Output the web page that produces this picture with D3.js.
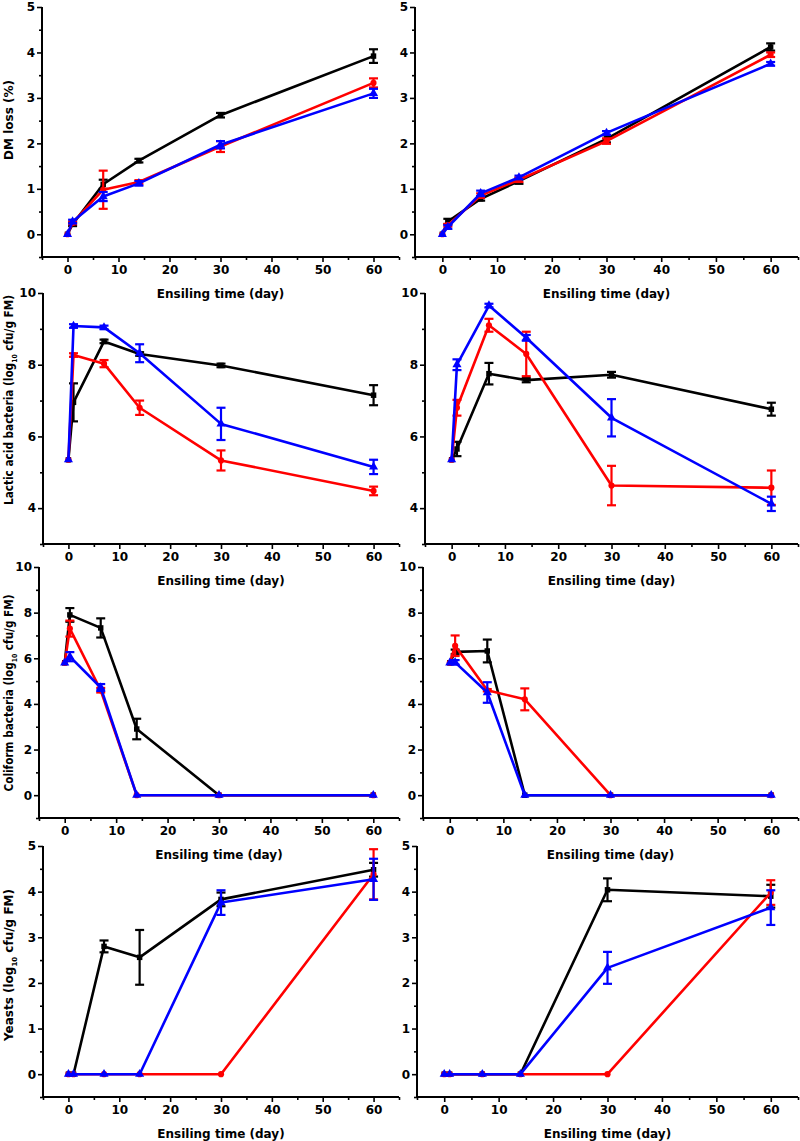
<!DOCTYPE html>
<html><head><meta charset="utf-8">
<script src="https://cdn.jsdelivr.net/npm/d3@7/dist/d3.min.js"></script>
<style>
html,body{margin:0;padding:0;background:#fff;}
text{font-family:"DejaVu Sans",Verdana,sans-serif;font-weight:bold;fill:#000;}
</style></head>
<body>
<svg id="chart" width="800" height="1141"></svg>
<script>
// ---------- DATA ----------
const days = [0, 1, 7, 14, 30, 60];
const xTicks = [0, 10, 20, 30, 40, 50, 60];
const xLabel = "Ensiling time (day)";

// DM loss (%)
const dmL_black = [0, 0.22, 1.10, 1.62, 2.62, 3.92];
const dmL_black_err = [0, 0.04, 0.10, 0.04, 0.05, 0.15];
const dmL_red = [0, 0.25, 0.98, 1.15, 1.93, 3.33];
const dmL_red_err = [0, 0.03, 0.42, 0.04, 0.12, 0.10];
const dmL_blue = [0, 0.28, 0.83, 1.12, 1.97, 3.10];
const dmL_blue_err = [0, 0.04, 0.10, 0.05, 0.08, 0.10];

const dmR_black = [0, 0.28, 0.78, 1.17, 2.10, 4.12];
const dmR_black_err = [0, 0.06, 0.04, 0.06, 0.08, 0.08];
const dmR_red = [0, 0.20, 0.85, 1.20, 2.05, 3.95];
const dmR_red_err = [0, 0.03, 0.05, 0.05, 0.06, 0.05];
const dmR_blue = [0, 0.16, 0.90, 1.25, 2.23, 3.75];
const dmR_blue_err = [0, 0.04, 0.06, 0.04, 0.04, 0.04];

// Lactic acid bacteria
const labL_black = [5.35, 6.95, 8.65, 8.30, 7.98, 7.15];
const labL_black_err = [0, 0.53, 0.05, 0.05, 0.05, 0.28];
const labL_red = [5.35, 8.27, 8.03, 6.80, 5.33, 4.48];
const labL_red_err = [0, 0.05, 0.10, 0.20, 0.28, 0.12];
const labL_blue = [5.35, 9.08, 9.04, 8.32, 6.35, 5.15];
const labL_blue_err = [0, 0.05, 0.05, 0.25, 0.45, 0.20];

const labR_black = [5.35, 5.65, 7.75, 7.57, 7.72, 6.76];
const labR_black_err = [0, 0.20, 0.30, 0.06, 0.08, 0.18];
const labR_red = [5.35, 6.80, 9.10, 8.30, 4.63, 4.57];
const labR_red_err = [0, 0.22, 0.18, 0.62, 0.55, 0.48];
const labR_blue = [5.35, 8.00, 9.65, 8.75, 6.52, 4.12];
const labR_blue_err = [0, 0.15, 0.05, 0.08, 0.52, 0.20];

// Coliform bacteria
const colL_black = [5.8, 7.90, 7.33, 2.90, 0, 0];
const colL_black_err = [0, 0.30, 0.42, 0.45, 0, 0];
const colL_red = [5.8, 7.30, 4.60, 0, 0, 0];
const colL_red_err = [0, 0.35, 0.10, 0, 0, 0];
const colL_blue = [5.8, 6.07, 4.72, 0, 0, 0];
const colL_blue_err = [0, 0.20, 0.15, 0, 0, 0];

const colR_black = [5.8, 6.28, 6.32, 0, 0, 0];
const colR_black_err = [0, 0.10, 0.50, 0, 0, 0];
const colR_red = [5.8, 6.55, 4.60, 4.20, 0, 0];
const colR_red_err = [0, 0.45, 0.05, 0.48, 0, 0];
const colR_blue = [5.8, 5.82, 4.50, 0, 0, 0];
const colR_blue_err = [0, 0.10, 0.45, 0, 0, 0];

// Yeasts
const yeaL_black = [0, 0, 2.80, 2.56, 3.83, 4.48];
const yeaL_black_err = [0, 0, 0.13, 0.60, 0.15, 0.15];
const yeaL_red = [0, 0, 0, 0, 0, 4.38];
const yeaL_red_err = [0, 0, 0, 0, 0, 0.55];
const yeaL_blue = [0, 0, 0, 0, 3.76, 4.27];
const yeaL_blue_err = [0, 0, 0, 0, 0.27, 0.45];

const yeaR_black = [0, 0, 0, 0, 4.04, 3.90];
const yeaR_black_err = [0, 0, 0, 0, 0.25, 0.25];
const yeaR_red = [0, 0, 0, 0, 0, 3.98];
const yeaR_red_err = [0, 0, 0, 0, 0, 0.27];
const yeaR_blue = [0, 0, 0, 0, 2.33, 3.65];
const yeaR_blue_err = [0, 0, 0, 0, 0.35, 0.38];

// y tick values
const yTicksDM = [0, 1, 2, 3, 4, 5];
const yTicksLAB = [4, 6, 8, 10];
const yTicksCol = [0, 2, 4, 6, 8, 10];
const yTicksYea = [0, 1, 2, 3, 4, 5];

// ---------- LAYOUT ----------
const svg = d3.select("#chart");
const colors = ["#000000", "#ff0000", "#0000ff"];
const shapes = [d3.symbolSquare, d3.symbolCircle, d3.symbolTriangle];
const FONT = '"DejaVu Sans",Verdana,sans-serif';

const panels = [
  {l:42, r:399, t:7, b:257, yd:[-0.5,5], yt:yTicksDM, ym:0.5, lab:"DM loss (%)", sub:false, labY:120,
   s:[[dmL_black,dmL_black_err],[dmL_red,dmL_red_err],[dmL_blue,dmL_blue_err]]},
  {l:415, r:798, t:7, b:257, yd:[-0.5,5], yt:yTicksDM, ym:0.5,
   s:[[dmR_black,dmR_black_err],[dmR_red,dmR_red_err],[dmR_blue,dmR_blue_err]]},
  {l:43, r:399, t:293, b:544, yd:[3,10], yt:yTicksLAB, ym:1, lab:"Lactic acid bacteria", labY:400, sub:true, tl:210,
   s:[[labL_black,labL_black_err],[labL_red,labL_red_err],[labL_blue,labL_blue_err]]},
  {l:425, r:798, t:293, b:544, yd:[3,10], yt:yTicksLAB, ym:1,
   s:[[labR_black,labR_black_err],[labR_red,labR_red_err],[labR_blue,labR_blue_err]]},
  {l:39, r:399, t:567, b:818, yd:[-1,10], yt:yTicksCol, ym:1, lab:"Coliform bacteria", labY:693, sub:true, tl:197,
   s:[[colL_black,colL_black_err],[colL_red,colL_red_err],[colL_blue,colL_blue_err]]},
  {l:423, r:798, t:567, b:818, yd:[-1,10], yt:yTicksCol, ym:1,
   s:[[colR_black,colR_black_err],[colR_red,colR_red_err],[colR_blue,colR_blue_err]]},
  {l:43, r:399, t:846, b:1097, yd:[-0.5,5], yt:yTicksYea, ym:0.5, lab:"Yeasts", labY:965, sub:true,
   s:[[yeaL_black,yeaL_black_err],[yeaL_red,yeaL_red_err],[yeaL_blue,yeaL_blue_err]]},
  {l:417, r:798, t:846, b:1097, yd:[-0.5,5], yt:yTicksYea, ym:0.5,
   s:[[yeaR_black,yeaR_black_err],[yeaR_red,yeaR_red_err],[yeaR_blue,yeaR_blue_err]]}
];

panels.forEach(p => {
  const x = d3.scaleLinear().domain([-5, 65]).range([p.l, p.r]);
  const y = d3.scaleLinear().domain(p.yd).range([p.b, p.t]);
  const g = svg.append("g");

  const xMinor = d3.range(-5, 66, 10);
  const yMinor = d3.range(p.yd[0], p.yd[1] + 1e-9, p.ym).filter(v => !p.yt.some(t => Math.abs(t - v) < 1e-9));

  const xAxis = d3.axisBottom(x).tickValues(xTicks).tickSize(5).tickPadding(3).tickFormat(d3.format("d"));
  const yAxis = d3.axisLeft(y).tickValues(p.yt).tickSize(5).tickPadding(2).tickFormat(d3.format("d"));
  const xg = g.append("g").attr("transform", `translate(0,${p.b})`).call(xAxis);
  const yg = g.append("g").attr("transform", `translate(${p.l},0)`).call(yAxis);
  g.append("g").attr("transform", `translate(0,${p.b})`)
    .call(d3.axisBottom(x).tickValues(xMinor).tickSize(3).tickFormat(""))
    .select(".domain").remove();
  g.append("g").attr("transform", `translate(${p.l},0)`)
    .call(d3.axisLeft(y).tickValues(yMinor).tickSize(3).tickFormat(""))
    .select(".domain").remove();
  [xg, yg].forEach(a => {
    a.selectAll("text").style("font-size", "12px").style("font-weight", "bold")
      .style("font-family", FONT).attr("fill", "#000");
  });
  g.selectAll(".tick line").attr("stroke", "#000").attr("stroke-width", 1.6);
  xg.select(".domain").remove(); yg.select(".domain").remove();
  g.append("line").attr("x1", p.l).attr("x2", p.r).attr("y1", p.b).attr("y2", p.b)
    .attr("stroke", "#000").attr("stroke-width", 2);
  g.append("line").attr("x1", p.l).attr("x2", p.l).attr("y1", p.t).attr("y2", p.b + 1)
    .attr("stroke", "#000").attr("stroke-width", 2);

  // x label
  g.append("text").attr("x", (p.l + p.r) / 2).attr("y", p.b + 41)
    .attr("text-anchor", "middle").style("font-size", "12px").text(xLabel);

  // y label
  if (p.lab) {
    const t = g.append("text").attr("transform", `translate(13,${p.labY}) rotate(-90)`)
      .attr("text-anchor", "middle").style("font-size", "12px");
    if (p.sub) {
      t.append("tspan").text(p.lab + " (log");
      t.append("tspan").text("10").style("font-size", "7px").attr("dy", 4);
      t.append("tspan").text(" cfu/g FM)").attr("dy", -4);
    } else {
      t.text(p.lab);
    }
    if (p.tl) t.attr("textLength", p.tl).attr("lengthAdjust", "spacingAndGlyphs");
  }

  // series
  p.s.forEach((ser, i) => {
    const vals = ser[0], errs = ser[1];
    const pts = days.map((d, k) => ({d, v: vals[k], e: errs[k]}));
    const sg = g.append("g");
    sg.append("path").datum(pts)
      .attr("d", d3.line().x(q => x(q.d)).y(q => y(q.v)))
      .attr("fill", "none").attr("stroke", colors[i]).attr("stroke-width", 2.6)
      .attr("stroke-linejoin", "round");
    const eb = sg.selectAll(".eb").data(pts.filter(q => q.e > 0)).enter().append("g");
    eb.append("line").attr("x1", q => x(q.d)).attr("x2", q => x(q.d))
      .attr("y1", q => y(q.v - q.e)).attr("y2", q => y(q.v + q.e))
      .attr("stroke", colors[i]).attr("stroke-width", 2.2);
    [-1, 1].forEach(sgn => {
      eb.append("line").attr("x1", q => x(q.d) - 4.5).attr("x2", q => x(q.d) + 4.5)
        .attr("y1", q => y(q.v + sgn * q.e)).attr("y2", q => y(q.v + sgn * q.e))
        .attr("stroke", colors[i]).attr("stroke-width", 2.2);
    });
    sg.selectAll(".mk").data(pts).enter().append("path")
      .attr("transform", q => `translate(${x(q.d)},${y(q.v)})`)
      .attr("d", d3.symbol().type(shapes[i]).size(i === 2 ? 36 : 30))
      .attr("fill", colors[i]);
  });
});
</script>
</body></html>
